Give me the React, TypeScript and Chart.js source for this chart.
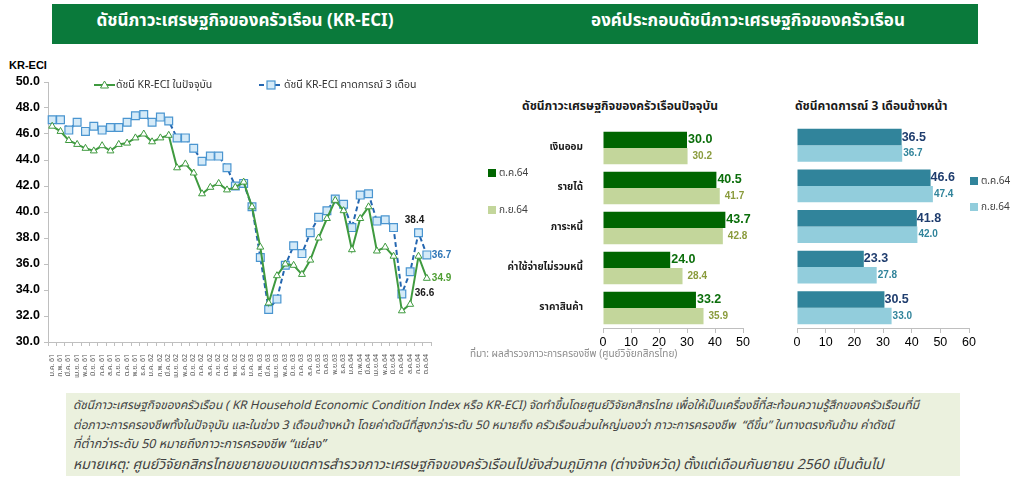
import React, { useEffect, useRef } from "react";
import { Chart, registerables } from "chart.js";

Chart.register(...registerables);

const THAI = '"Noto Sans Thai", "Noto Sans Thai UI", Tahoma, "Liberation Sans", "DejaVu Sans", sans-serif';
const LAT = '"Liberation Sans", Arial, ' + THAI;

// ---------- Data ----------
const monthLabels = [
  "ม.ค. 61", "ก.พ. 61", "มี.ค. 61", "เม.ย. 61", "พ.ค. 61", "มิ.ย. 61", "ก.ค. 61", "ส.ค. 61", "ก.ย. 61", "ต.ค. 61", "พ.ย. 61", "ธ.ค. 61",
  "ม.ค. 62", "ก.พ. 62", "มี.ค. 62", "เม.ย. 62", "พ.ค. 62", "มิ.ย. 62", "ก.ค. 62", "ส.ค. 62", "ก.ย. 62", "ต.ค. 62", "พ.ย. 62", "ธ.ค. 62",
  "ม.ค. 63", "ก.พ. 63", "มี.ค. 63", "เม.ย. 63", "พ.ค. 63", "มิ.ย. 63", "ก.ค. 63", "ส.ค. 63", "ก.ย.63", "ต.ค.63", "พ.ย.63", "ธ.ค.63",
  "ม.ค.64", "ก.พ.64", "มี.ค.64", "เม.ย.64", "พ.ค.64", "มิ.ย.64", "ก.ค.64", "ส.ค.64", "ก.ย.64", "ต.ค.64",
];

const currentIndex = [
  46.6, 46.2, 45.5, 45.2, 44.9, 44.7, 45.1, 44.7, 45.2, 45.3, 45.7, 46.0,
  45.4, 45.7, 45.9, 43.4, 43.7, 43.0, 41.4, 41.9, 42.2, 41.7, 41.9, 42.3,
  40.4, 37.3, 33.0, 35.1, 36.0, 35.9, 35.2, 36.3, 38.0, 39.5, 40.9, 40.1,
  37.1, 39.5, 40.4, 37.0, 37.3, 36.6, 32.4, 32.9, 36.6, 34.9,
];

const expectIndex = [
  47.1, 47.1, 46.3, 46.9, 46.2, 46.6, 46.3, 46.5, 46.5, 46.9, 47.4, 47.5,
  46.9, 47.3, 47.0, 45.7, 45.7, 44.9, 43.9, 44.3, 44.3, 43.4, 42.0, 42.2,
  40.4, 36.5, 32.5, 33.3, 35.9, 37.4, 36.8, 38.4, 39.6, 40.1, 41.0, 40.6,
  38.8, 41.3, 41.4, 39.3, 39.4, 38.8, 33.7, 35.4, 38.4, 36.7,
];

const componentLabels = ["เงินออม", "รายได้", "ภาระหนี้", "ค่าใช้จ่ายไม่รวมหนี้", "ราคาสินค้า"];
const currentOct = [30.0, 40.5, 43.7, 24.0, 33.2];
const currentSep = [30.2, 41.7, 42.8, 28.4, 35.9];
const expectOct = [36.5, 46.6, 41.8, 23.3, 30.5];
const expectSep = [36.7, 47.4, 42.0, 27.8, 33.0];
const seriesNames = ["ต.ค.64", "ก.ย.64"];
const lineNames = ["ดัชนี KR-ECI ในปัจจุบัน", "ดัชนี KR-ECI คาดการณ์ 3 เดือน"];

// ---------- Chart helper ----------
function ChartCanvas({ make, style, width, height }: any) {
  const ref = useRef<HTMLCanvasElement>(null);
  useEffect(() => {
    const chart = new Chart(ref.current as HTMLCanvasElement, make());
    return () => chart.destroy();
  }, []);
  return (
    <canvas
      ref={ref}
      width={width}
      height={height}
      style={{ position: "absolute", width, height, ...style }}
    />
  );
}

// ---------- Line chart ----------
const lineLabelPlugin = {
  id: "lineLabels",
  afterDatasetsDraw(chart: any) {
    const ctx = chart.ctx;
    const g = chart.getDatasetMeta(0).data;
    const b = chart.getDatasetMeta(1).data;
    const n = g.length;
    ctx.save();
    ctx.font = "bold 10px " + LAT;
    ctx.textBaseline = "middle";
    ctx.fillStyle = "#1a1a1a";
    ctx.textAlign = "center";
    ctx.fillText(expectIndex[n - 2].toFixed(1), b[n - 2].x - 4, b[n - 2].y - 13);
    ctx.fillText(currentIndex[n - 2].toFixed(1), g[n - 2].x + 6, g[n - 2].y + 37);
    ctx.textAlign = "left";
    ctx.fillStyle = "#2e75b6";
    ctx.fillText(expectIndex[n - 1].toFixed(1), b[n - 1].x + 5, b[n - 1].y);
    ctx.fillStyle = "#4f9e33";
    ctx.fillText(currentIndex[n - 1].toFixed(1), g[n - 1].x + 5, g[n - 1].y);
    ctx.restore();
  },
};

function makeLine() {
  return {
    type: "line",
    data: {
      labels: monthLabels,
      datasets: [
        {
          label: lineNames[0],
          data: currentIndex,
          borderColor: "#3f9a3f",
          borderWidth: 2,
          pointStyle: "triangle",
          pointRadius: 4,
          pointBackgroundColor: "#ffffff",
          pointBorderColor: "#3f9a3f",
          pointBorderWidth: 1,
          tension: 0,
        },
        {
          label: lineNames[1],
          data: expectIndex,
          borderColor: "#2466b0",
          borderWidth: 2,
          borderDash: [5, 3],
          pointStyle: "rect",
          pointRadius: 5.5,
          pointBackgroundColor: "#d4eaf8",
          pointBorderColor: "#4a95d0",
          pointBorderWidth: 1.2,
          tension: 0,
        },
      ],
    },
    options: {
      animation: false,
      responsive: false,
      maintainAspectRatio: false,
      layout: { padding: { top: 27, right: 29, bottom: 3, left: 0 } },
      plugins: { legend: { display: false }, tooltip: { enabled: false }, title: { display: false } },
      scales: {
        x: {
          offset: true,
          grid: { offset: true, drawOnChartArea: false, drawTicks: true, tickLength: 4, color: "#bfbfbf" },
          border: { color: "#bfbfbf" },
          ticks: {
            autoSkip: false,
            minRotation: 90,
            maxRotation: 90,
            font: { size: 7, family: THAI },
            color: "#595959",
            padding: 8,
          },
          afterFit(s: any) {
            s.height = 55;
          },
        },
        y: {
          min: 30,
          max: 50,
          ticks: {
            stepSize: 2,
            callback: (v: any) => Number(v).toFixed(1),
            font: { size: 12.5, weight: "bold", family: LAT },
            color: "#000000",
            padding: 4,
          },
          grid: { drawOnChartArea: false, tickLength: 4, color: "#bfbfbf" },
          border: { color: "#bfbfbf" },
          afterFit(s: any) {
            s.width = 48;
          },
        },
      },
    },
    plugins: [lineLabelPlugin],
  };
}

// ---------- Bar charts ----------
function barLabelPlugin(darkColor: string, lightColor: string, darkGap: number, lightGap: number) {
  return {
    id: "barLabels",
    afterDatasetsDraw(chart: any) {
      const ctx = chart.ctx;
      ctx.save();
      ctx.textBaseline = "middle";
      ctx.textAlign = "left";
      chart.data.datasets.forEach((ds: any, di: number) => {
        const meta = chart.getDatasetMeta(di);
        meta.data.forEach((el: any, i: number) => {
          if (di === 0) {
            ctx.font = "bold 12.5px " + LAT;
            ctx.fillStyle = darkColor;
            ctx.fillText(Number(ds.data[i]).toFixed(1), el.x + darkGap, el.y);
          } else {
            ctx.font = "bold 10px " + LAT;
            ctx.fillStyle = lightColor;
            ctx.fillText(Number(ds.data[i]).toFixed(1), el.x + lightGap, el.y);
          }
        });
      });
      ctx.restore();
    },
  };
}

function makeBar(
  oct: number[],
  sep: number[],
  colors: string[],
  labelColors: string[],
  max: number,
  showCats: boolean,
  padding: any,
  yWidth: number,
  gaps: number[]
) {
  return {
    type: "bar",
    data: {
      labels: componentLabels,
      datasets: [
        { label: seriesNames[0], data: oct, backgroundColor: colors[0], barPercentage: 1, categoryPercentage: 0.81 },
        { label: seriesNames[1], data: sep, backgroundColor: colors[1], barPercentage: 1, categoryPercentage: 0.81 },
      ],
    },
    options: {
      indexAxis: "y",
      animation: false,
      responsive: false,
      maintainAspectRatio: false,
      layout: { padding },
      plugins: { legend: { display: false }, tooltip: { enabled: false }, title: { display: false } },
      scales: {
        x: {
          min: 0,
          max,
          ticks: { stepSize: 10, font: { size: 12.5, family: LAT }, color: "#000000", padding: 2 },
          grid: { drawOnChartArea: false, drawTicks: true, tickLength: 5, color: "#bfbfbf" },
          border: { display: true, color: "#bfbfbf" },
          afterFit(s: any) {
            s.height = 30;
          },
        },
        y: {
          ticks: {
            display: showCats,
            font: { size: 10, weight: "bold", family: THAI },
            color: "#1a1a1a",
            padding: 12,
          },
          grid: { display: false },
          border: { display: false },
          afterFit(s: any) {
            s.width = yWidth;
          },
        },
      },
    },
    plugins: [barLabelPlugin(labelColors[0], labelColors[1], gaps[0], gaps[1])],
  };
}

// ---------- Small HTML pieces ----------
const abs = (x: number, y: number, extra: any = {}) => ({ position: "absolute" as const, left: x, top: y, ...extra });

function LegendSwatch({ x, y, color, text }: any) {
  return (
    <>
      <div style={abs(x, y - 4, { width: 8, height: 8, background: color })} />
      <div
        style={abs(x + 11, y - 8, {
          fontFamily: THAI,
          fontSize: 10,
          color: "#404040",
          lineHeight: "16px",
          whiteSpace: "nowrap",
        })}
      >
        {text}
      </div>
    </>
  );
}

export default function App() {
  return (
    <div
      style={{
        position: "absolute",
        left: 0,
        top: 0,
        width: 1023,
        height: 478,
        background: "#ffffff",
        overflow: "hidden",
        fontFamily: THAI,
      }}
    >
      {/* Header band */}
      <div style={abs(52, 4, { width: 926, height: 40, background: "#0a7a3b" })} />
      <div
        style={abs(52, 4, {
          width: 386,
          height: 40,
          lineHeight: "34px",
          textAlign: "center",
          color: "#ffffff",
          fontWeight: "bold",
          fontSize: 17,
          whiteSpace: "nowrap",
        })}
      >
        ดัชนีภาวะเศรษฐกิจของครัวเรือน (KR-ECI)
      </div>
      <div
        style={abs(500, 4, {
          width: 496,
          height: 40,
          lineHeight: "34px",
          textAlign: "center",
          color: "#ffffff",
          fontWeight: "bold",
          fontSize: 17,
          whiteSpace: "nowrap",
        })}
      >
        องค์ประกอบดัชนีภาวะเศรษฐกิจของครัวเรือน
      </div>

      {/* Left line chart */}
      <div style={abs(9, 59, { fontFamily: LAT, fontWeight: "bold", fontSize: 11, color: "#000" })}>KR-ECI</div>
      <ChartCanvas make={makeLine} width={460} height={345} style={{ left: 0, top: 55 }} />
      <svg style={abs(93, 78)} width={24} height={14}>
        <line x1={1} y1={7} x2={22} y2={7} stroke="#3f9a3f" strokeWidth={2} />
        <polygon points="11.5,3 15.5,10 7.5,10" fill="#ffffff" stroke="#3f9a3f" strokeWidth={1} />
      </svg>
      <div style={abs(116, 77, { fontSize: 10.5, color: "#333", whiteSpace: "nowrap", lineHeight: "16px" })}>
        {lineNames[0]}
      </div>
      <svg style={abs(258, 78)} width={26} height={14}>
        <line x1={1} y1={7} x2={25} y2={7} stroke="#2466b0" strokeWidth={2} strokeDasharray="5 3" />
        <rect x={9} y={3} width={8} height={8} fill="#d4eaf8" stroke="#4a95d0" strokeWidth={1.2} />
      </svg>
      <div style={abs(284, 77, { fontSize: 10.5, color: "#333", whiteSpace: "nowrap", lineHeight: "16px" })}>
        {lineNames[1]}
      </div>

      {/* Middle bar chart */}
      <div
        style={abs(470, 97, {
          width: 300,
          textAlign: "center",
          fontWeight: "bold",
          fontSize: 12,
          color: "#1a1a1a",
          whiteSpace: "nowrap",
          lineHeight: "18px",
        })}
      >
        ดัชนีภาวะเศรษฐกิจของครัวเรือนปัจจุบัน
      </div>
      <ChartCanvas
        make={() =>
          makeBar(
            currentOct,
            currentSep,
            ["#006600", "#c3d69b"],
            ["#0b6e0b", "#8a9b3c"],
            50,
            true,
            { top: 15, right: 17, bottom: 2, left: 0 },
            133,
            [1, 5]
          )
        }
        width={290}
        height={250}
        style={{ left: 470, top: 110 }}
      />
      <LegendSwatch x={488} y={173} color="#006600" text={seriesNames[0]} />
      <LegendSwatch x={488} y={210} color="#c3d69b" text={seriesNames[1]} />
      <div style={abs(470, 347, { fontSize: 10, color: "#8c8c8c", whiteSpace: "nowrap", lineHeight: "14px" })}>
        ที่มา: ผลสำรวจภาวะการครองชีพ (ศูนย์วิจัยกสิกรไทย)
      </div>

      {/* Right bar chart */}
      <div
        style={abs(795, 97, {
          fontWeight: "bold",
          fontSize: 12,
          color: "#1a1a1a",
          whiteSpace: "nowrap",
          lineHeight: "18px",
        })}
      >
        ดัชนีคาดการณ์ 3 เดือนข้างหน้า
      </div>
      <ChartCanvas
        make={() =>
          makeBar(
            expectOct,
            expectSep,
            ["#31849b", "#92cddc"],
            ["#1f3d6e", "#31849b"],
            60,
            false,
            { top: 15, right: 54, bottom: 2, left: 7 },
            0,
            [0, 1]
          )
        }
        width={233}
        height={250}
        style={{ left: 790, top: 110 }}
      />
      <LegendSwatch x={970} y={181} color="#31849b" text={seriesNames[0]} />
      <LegendSwatch x={970} y={207} color="#92cddc" text={seriesNames[1]} />

      {/* Bottom note */}
      <div
        style={abs(66, 393, {
          width: 894,
          height: 83,
          background: "#ebf1de",
          fontStyle: "italic",
          fontSize: 12,
          color: "#404040",
          lineHeight: "19.5px",
          paddingTop: 3,
          paddingLeft: 7,
          boxSizing: "border-box",
          whiteSpace: "nowrap",
        })}
      >
        <div style={{ fontSize: 11.9 }}>
          ดัชนีภาวะเศรษฐกิจของครัวเรือน ( KR Household Economic Condition Index หรือ KR-ECI) จัดทำขึ้นโดยศูนย์วิจัยกสิกรไทย
          เพื่อให้เป็นเครื่องชี้ที่สะท้อนความรู้สึกของครัวเรือนที่มี
        </div>
        <div>
          ต่อภาวะการครองชีพทั้งในปัจจุบัน และในช่วง 3 เดือนข้างหน้า โดยค่าดัชนีที่สูงกว่าระดับ 50 หมายถึง ครัวเรือนส่วนใหญ่มองว่า
          ภาวะการครองชีพ &nbsp;“ดีขึ้น” ในทางตรงกันข้าม ค่าดัชนี
        </div>
        <div style={{ fontSize: 12.5 }}>ที่ต่ำกว่าระดับ 50 หมายถึงภาวะการครองชีพ “แย่ลง”</div>
        <div style={{ fontSize: 14 }}>
          หมายเหตุ: ศูนย์วิจัยกสิกรไทยขยายขอบเขตการสำรวจภาวะเศรษฐกิจของครัวเรือนไปยังส่วนภูมิภาค (ต่างจังหวัด)
          ตั้งแต่เดือนกันยายน 2560 เป็นต้นไป
        </div>
      </div>
    </div>
  );
}
